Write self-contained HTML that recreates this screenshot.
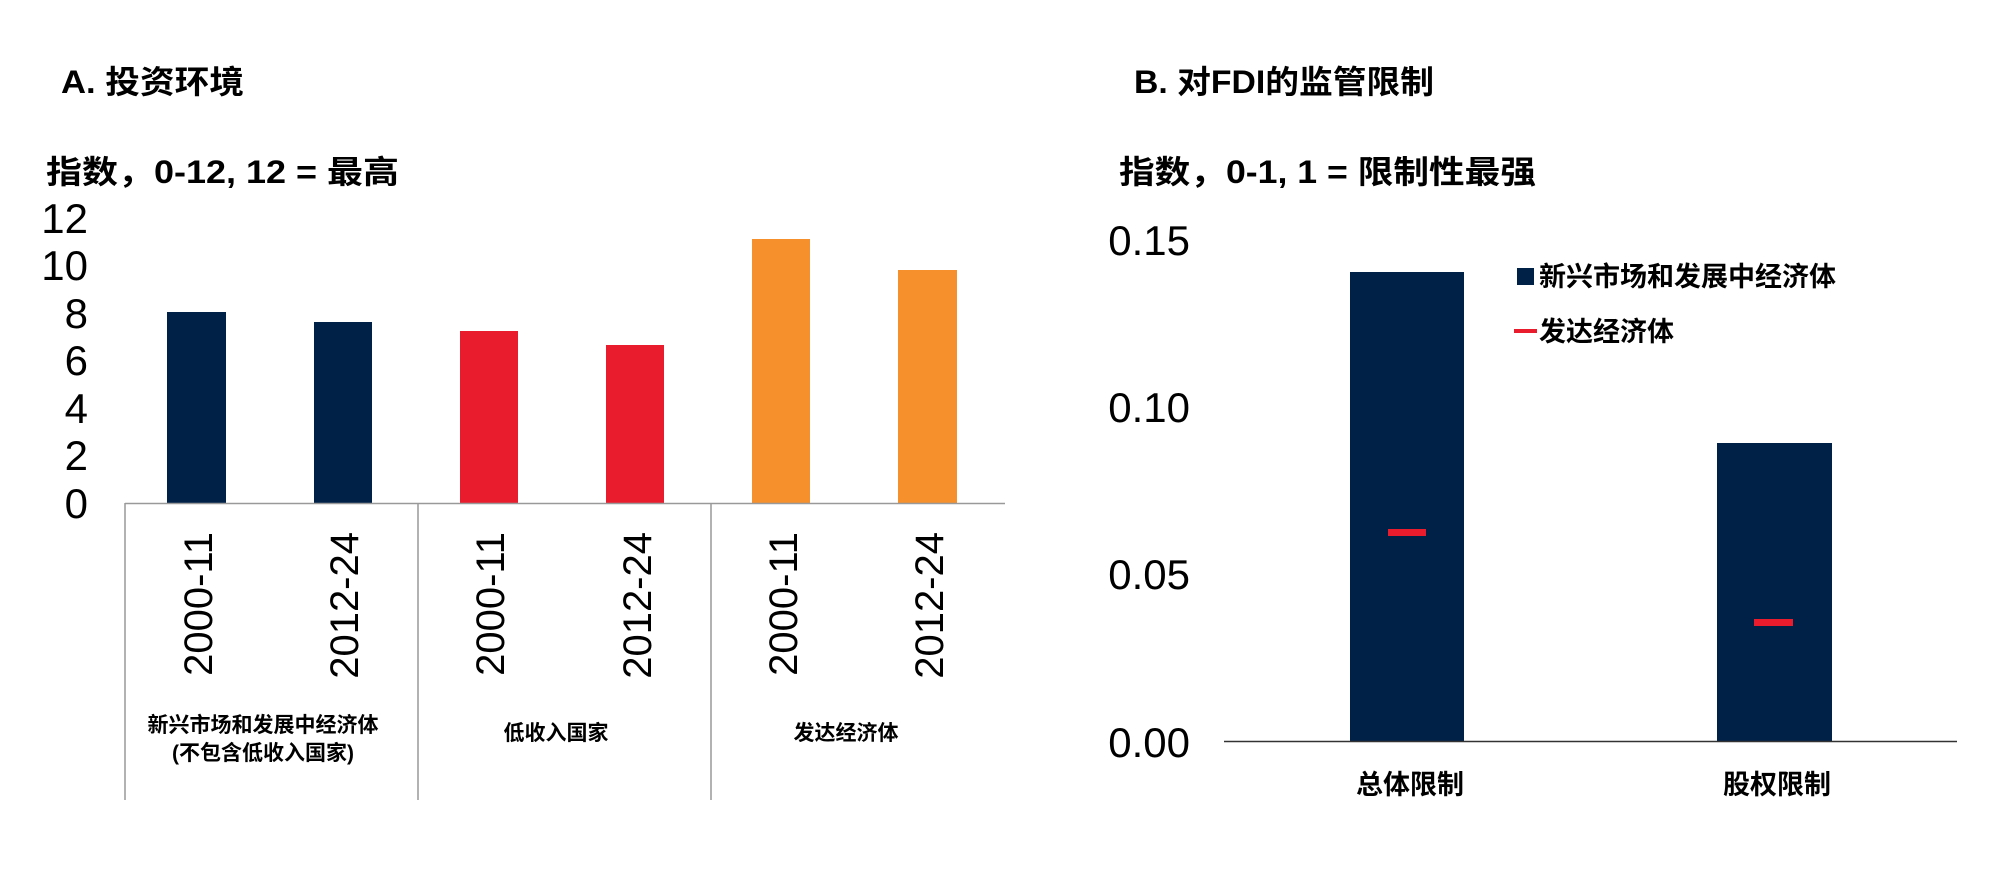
<!DOCTYPE html>
<html><head><meta charset="utf-8"><style>
html,body{margin:0;padding:0;background:#fff;}
svg{display:block;}
text{font-family:"Liberation Sans","Noto Sans CJK SC",sans-serif;fill:#000;}
.cjk{font-family:"Liberation Sans","Noto Sans CJK SC",sans-serif;font-weight:bold;}
.tick{font-size:42px;}
</style></head><body>
<svg width="2000" height="878" viewBox="0 0 2000 878" xmlns="http://www.w3.org/2000/svg">
<!-- Panel A -->
<text class="cjk" x="61" y="93" font-size="32" textLength="183" lengthAdjust="spacingAndGlyphs">A. 投资环境</text>
<text class="cjk" x="46" y="183" font-size="32" textLength="353" lengthAdjust="spacingAndGlyphs">指数，0-12, 12 = 最高</text>
<g class="tick" text-anchor="end">
<text x="88" y="233">12</text>
<text x="88" y="257" dy="0" style="display:none"></text>
<text x="88" y="280">10</text>
<text x="88" y="328">8</text>
<text x="88" y="375">6</text>
<text x="88" y="423">4</text>
<text x="88" y="470">2</text>
<text x="88" y="518">0</text>
</g>
<rect x="167" y="312" width="59" height="191" fill="#002147"/>
<rect x="314" y="322" width="58" height="181" fill="#002147"/>
<rect x="460" y="331" width="58" height="172" fill="#E91C2E"/>
<rect x="606" y="345" width="58" height="158" fill="#E91C2E"/>
<rect x="752" y="239" width="58" height="264" fill="#F5902C"/>
<rect x="898" y="270" width="59" height="233" fill="#F5902C"/>
<line x1="125" y1="503.5" x2="1005" y2="503.5" stroke="#999" stroke-width="1.5"/>
<g stroke="#999" stroke-width="1.5">
<line x1="125" y1="503" x2="125" y2="800"/>
<line x1="418" y1="503" x2="418" y2="800"/>
<line x1="711" y1="503" x2="711" y2="800"/>
</g>
<g font-size="40">
<text transform="translate(212,532) rotate(-90)" text-anchor="end">2000-11</text>
<text transform="translate(358,532) rotate(-90)" text-anchor="end">2012-24</text>
<text transform="translate(504,532) rotate(-90)" text-anchor="end">2000-11</text>
<text transform="translate(651,532) rotate(-90)" text-anchor="end">2012-24</text>
<text transform="translate(797,532) rotate(-90)" text-anchor="end">2000-11</text>
<text transform="translate(943,532) rotate(-90)" text-anchor="end">2012-24</text>
</g>
<g class="cjk" font-size="21" text-anchor="middle">
<text x="263" y="732">新兴市场和发展中经济体</text>
<text x="263" y="760">(不包含低收入国家)</text>
<text x="556" y="740">低收入国家</text>
<text x="846" y="740">发达经济体</text>
</g>
<!-- Panel B -->
<text class="cjk" x="1134" y="93" font-size="32" textLength="300" lengthAdjust="spacingAndGlyphs">B. 对FDI的监管限制</text>
<text class="cjk" x="1119" y="183" font-size="32" textLength="417" lengthAdjust="spacingAndGlyphs">指数，0-1, 1 = 限制性最强</text>
<g class="tick" text-anchor="end">
<text x="1190" y="255">0.15</text>
<text x="1190" y="422">0.10</text>
<text x="1190" y="589">0.05</text>
<text x="1190" y="757">0.00</text>
</g>
<rect x="1350" y="272" width="114" height="469" fill="#002147"/>
<rect x="1717" y="443" width="115" height="298" fill="#002147"/>
<rect x="1388" y="529" width="38" height="7" fill="#E91C2E"/>
<rect x="1754" y="619" width="39" height="7" fill="#E91C2E"/>
<line x1="1224" y1="741.5" x2="1957" y2="741.5" stroke="#333" stroke-width="1.5"/>
<rect x="1517" y="268" width="17" height="17" fill="#002147"/>
<text class="cjk" x="1539" y="286" font-size="27">新兴市场和发展中经济体</text>
<rect x="1514" y="329" width="23" height="4" fill="#E91C2E"/>
<text class="cjk" x="1539" y="341" font-size="27">发达经济体</text>
<g class="cjk" font-size="27" text-anchor="middle">
<text x="1410" y="794">总体限制</text>
<text x="1777" y="794">股权限制</text>
</g>
</svg>
</body></html>
